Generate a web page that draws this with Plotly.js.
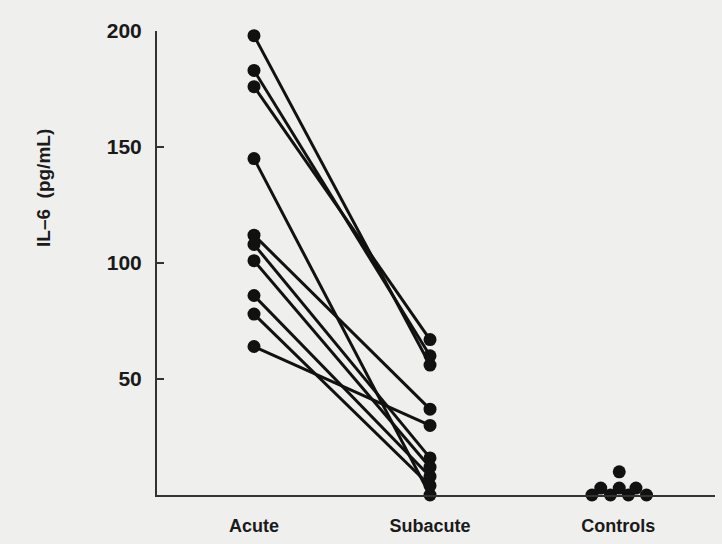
<!DOCTYPE html>
<html>
<head>
<meta charset="utf-8">
<script src="https://cdn.plot.ly/plotly-3.0.1.min.js"></script>
<style>html,body{margin:0;padding:0;background:#efefed;}#chart{width:722px;height:544px;}</style>
</head>
<body>
<div id="chart"></div>
<script>
// Category labels and their positions on the x axis
const groups = ["Acute", "Subacute", "Controls"];
const groupPos = [0, 1, 2.07];

// Paired patient values (pg/mL)
const acute    = [198, 183, 176, 145, 112, 108, 101, 86, 78, 64];
const subacute = [ 56,  60,  67,   0,  37,  16,  12,  8,  4, 30];

// Control subjects (pg/mL) and their horizontal spread within the group
const controls      = [0, 0, 0, 0, 3, 3, 3, 10];
const controlSpread = [-0.15, -0.045, 0.057, 0.16, -0.1, 0.005, 0.1, 0.005];

const yTicks = [50, 100, 150, 200];

const traces = [];
for (let i = 0; i < acute.length; i++) {
  traces.push({
    type: "scatter", mode: "lines+markers",
    x: [groupPos[0], groupPos[1]],
    y: [acute[i], subacute[i]],
    line: {color: "#111", width: 3},
    marker: {color: "#111", size: 13},
    cliponaxis: false, showlegend: false, hoverinfo: "y"
  });
}
traces.push({
  type: "scatter", mode: "markers",
  x: controls.map((v, i) => groupPos[2] + controlSpread[i]),
  y: controls,
  marker: {color: "#111", size: 13},
  cliponaxis: false, showlegend: false, hoverinfo: "y"
});

const font = {family: "Liberation Sans, Arial, sans-serif", color: "#1a1a1a"};

const layout = {
  width: 722, height: 544,
  margin: {l: 157, r: 7, t: 31, b: 49},
  paper_bgcolor: "#efefed", plot_bgcolor: "#efefed",
  showlegend: false,
  xaxis: {
    range: [-0.551, 2.619],
    tickmode: "array", tickvals: groupPos, ticktext: groups.map(g => "<b>" + g + "</b>"),
    showgrid: false, zeroline: false,
    showline: true, linecolor: "#333", linewidth: 2,
    ticks: "", ticklabelstandoff: 13,
    tickfont: Object.assign({size: 18}, font),
    fixedrange: true
  },
  yaxis: {
    range: [0, 200],
    tickmode: "array", tickvals: yTicks, ticktext: yTicks.map(t => "<b>" + t + "</b>"),
    showgrid: false, zeroline: false,
    showline: true, linecolor: "#333", linewidth: 2,
    ticks: "inside", ticklen: 7, tickwidth: 2, tickcolor: "#333",
    ticklabelstandoff: 9,
    tickfont: Object.assign({size: 21}, font),
    fixedrange: true
  },
  annotations: [{
    text: "<b>IL–6  (pg/mL)</b>", textangle: -90,
    xref: "paper", yref: "paper",
    x: (43 - 157) / 558, y: (495 - 188) / 464,
    xanchor: "center", yanchor: "middle",
    showarrow: false,
    font: Object.assign({size: 19}, font)
  }]
};

Plotly.newPlot("chart", traces, layout, {displayModeBar: false, staticPlot: true});
</script>
</body>
</html>
